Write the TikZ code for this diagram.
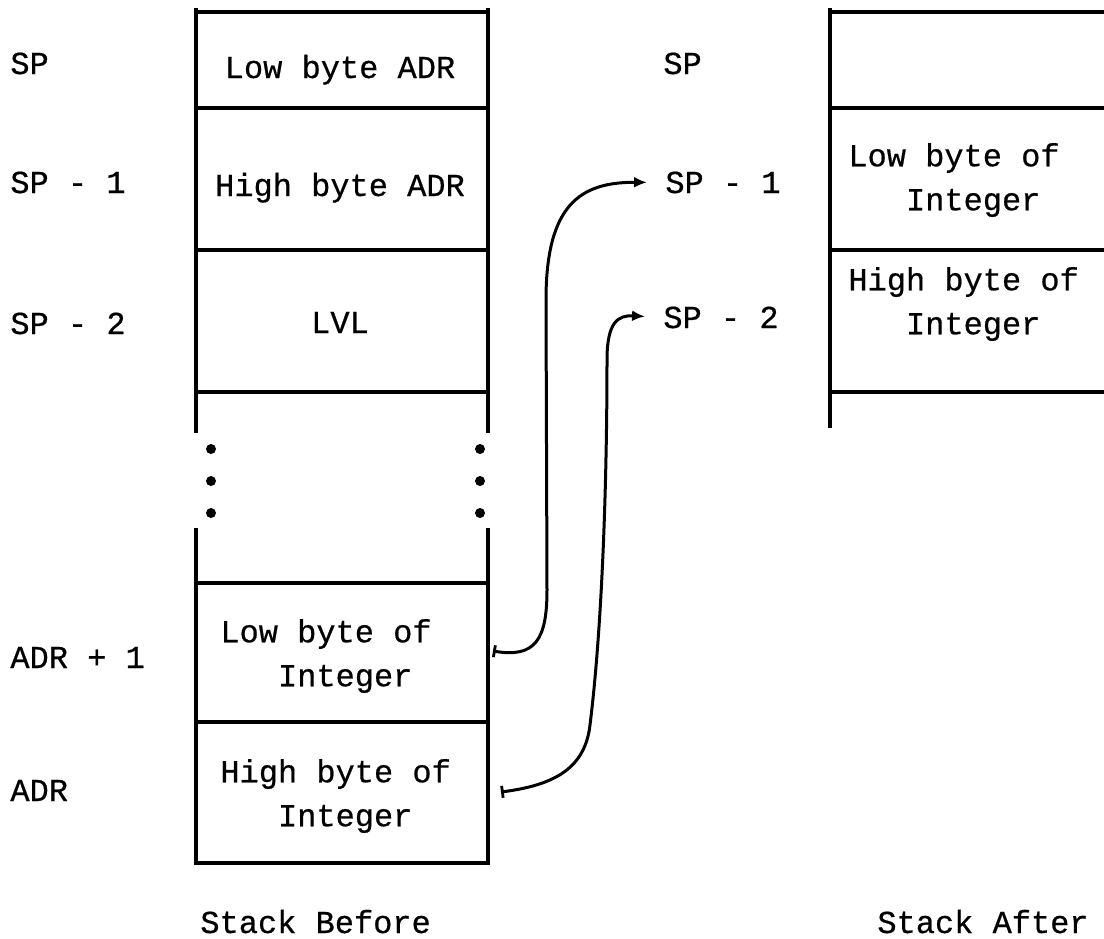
\documentclass[tikz,border=0pt]{standalone}
\usepackage{fontspec}
\setmainfont{Liberation Mono}[UprightFeatures={FakeBold=0.6}]
\usetikzlibrary{arrows.meta}

\begin{document}
\begin{tikzpicture}[x=0.5pt,y=-0.5pt,
  wall/.style={line width=1.8pt},
  lbl/.style={anchor=base west, inner sep=0pt, font=\fontsize{16}{22}\selectfont},
  celltext/.style={anchor=base, inner sep=0pt, font=\fontsize{16}{22}\selectfont},
  twoline/.style={anchor=west, align=left, inner sep=0pt, font=\fontsize{16}{22}\selectfont},
  move/.style={line width=1.5pt, shorten >=9pt,
    {Bar[width=6pt,line width=1.4pt]}-{Latex[length=6.5pt,width=5.5pt]}}]
\useasboundingbox (0,0) rectangle (1104,938);

% stack before
\draw[wall] (196,8) -- (196,433);
\draw[wall] (488,8) -- (488,433);
\draw[wall] (196,528) -- (196,863) -- (488,863) -- (488,528);
\foreach \y in {12,108,250,392,583,722}
  \draw[wall] (196,\y) -- (490,\y);
\foreach \y in {449,481,513} {
  \fill (211,\y) circle (2.5pt);
  \fill (480,\y) circle (2.5pt);
}

% stack after
\draw[wall] (830,8) -- (830,428);
\foreach \y in {12,108,250,392}
  \draw[wall] (830,\y) -- (1104,\y);

% addresses
\node[lbl] (spB) at (10,74) {SP};
\node[lbl] (spBone) at (10,193) {SP - 1};
\node[lbl] (spBtwo) at (10,334) {SP - 2};
\node[lbl] (adrOne) at (10,668) {ADR + 1};
\node[lbl] (adr) at (10,801) {ADR};
\node[lbl] (spA) at (663,74) {SP};
\node[lbl] (spAone) at (665,193) {SP - 1};
\node[lbl] (spAtwo) at (663,328) {SP - 2};

% contents
\node[celltext] (lowAdr) at (340,78) {Low byte ADR};
\node[celltext] (highAdr) at (340,196) {High byte ADR};
\node[celltext] (lvl) at (340,333) {LVL};
\node[twoline] (lowInt) at (220,656) {Low byte of\\\phantom{Low}Integer};
\node[twoline] (highInt) at (220,796) {High byte of\\\phantom{Low}Integer};
\node[twoline] (lowNew) at (848,180) {Low byte of\\\phantom{Low}Integer};
\node[twoline] (highNew) at (848,304) {High byte of\\\phantom{Low}Integer};

\node[lbl] (before) at (200,933) {Stack Before};
\node[lbl] (after) at (877,933) {Stack After};

% moves
\coordinate (fromLow) at (493,651);
\coordinate (fromHigh) at (501,792);
\draw[move] (fromLow) .. controls (535,658) and (547,640) .. (547,590)
  -- (546,300) .. controls (546,205) and (580,182) .. (spAone.west);
\draw[move] (fromHigh) .. controls (555,785) and (585,768) .. (590,725)
  .. controls (603,620) and (607,470) .. (607,360)
  .. controls (607,322) and (618,315) .. (spAtwo.west);
\end{tikzpicture}
\end{document}
